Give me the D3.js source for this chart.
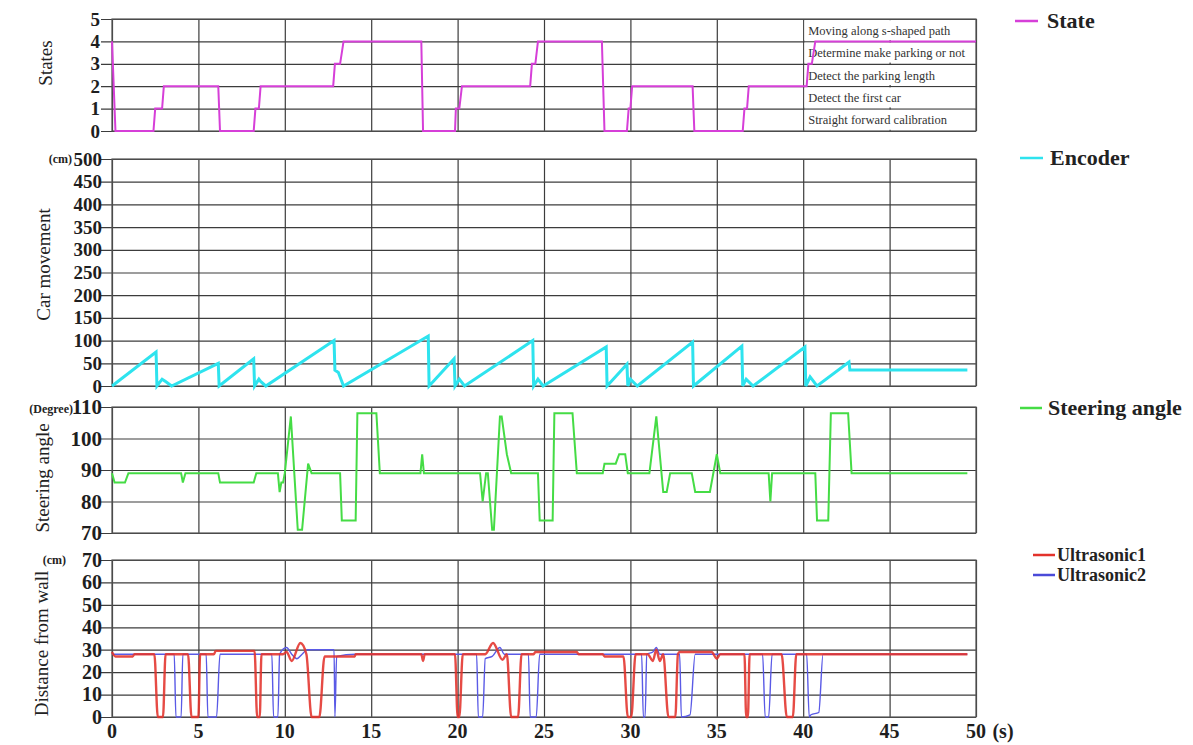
<!DOCTYPE html>
<html><head><meta charset="utf-8">
<script src="https://cdn.jsdelivr.net/npm/d3@7"></script>
<style>body{margin:0;background:#fff;} svg{display:block;font-family:"Liberation Serif","Times New Roman",serif;}</style>
</head><body><svg id="c" width="1193" height="745"></svg>
<script>
// ---------- DATA ----------
const timeTicks = [0,5,10,15,20,25,30,35,40,45,50];
const stateTicks = [0,1,2,3,4,5];
const encoderTicks = [0,50,100,150,200,250,300,350,400,450,500];
const steeringTicks = [70,80,90,100,110];
const ultraTicks = [0,10,20,30,40,50,60,70];
const stateLabels = ["Moving along s-shaped path","Determine make parking or not","Detect the parking length","Detect the first car","Straight forward calibration"];

const stateT = [0,0.2,2.4,2.5,2.9,3.0,6.15,6.25,8.2,8.3,8.5,8.6,12.8,12.9,13.2,13.4,17.9,18.0,19.85,19.9,20.1,20.25,24.2,24.3,24.5,24.65,28.35,28.5,29.8,29.9,30.0,30.1,33.6,33.7,36.5,36.6,36.75,36.85,40.2,40.3,40.5,40.7,50];
const stateV = [4,0,0,1,1,2,2,0,0,1,1,2,2,3,3,4,4,0,0,1,1,2,2,3,3,4,4,0,0,1,1,2,2,0,0,1,1,2,2,3,3,4,4];

const encoderT = [0,2.55,2.6,2.9,3.1,3.45,6.15,6.2,8.2,8.25,8.5,8.6,8.9,12.85,12.9,13.1,13.4,18.3,18.35,19.8,19.85,20.1,20.4,24.35,24.4,24.65,24.95,28.6,28.65,29.8,29.85,30.0,30.4,33.6,33.65,36.45,36.5,36.7,37.1,40.1,40.15,40.4,40.8,42.65,42.7,49.5];
const encoderV = [0,75,0,15,10,0,50,0,60,0,15,10,0,100,35,30,0,110,0,60,0,15,0,100,0,15,0,86,0,48,0,15,0,97,0,88,0,15,0,86,0,20,0,53,35,35];

const steeringT = [0,0.15,0.75,0.95,4.0,4.1,4.25,6.15,6.25,8.2,8.35,9.6,9.7,9.8,9.9,10.0,10.35,10.75,11.0,11.35,11.55,13.2,13.3,14.1,14.2,15.3,15.5,17.85,17.95,18.05,21.3,21.45,21.65,21.75,22.0,22.1,22.45,22.55,22.85,23.1,24.65,24.75,25.5,25.6,26.65,26.9,28.4,28.5,29.15,29.35,29.7,29.85,31.1,31.5,31.9,32.1,32.3,33.55,33.75,34.6,35.0,35.2,38.0,38.1,38.2,40.7,40.8,41.45,41.6,42.6,42.8,49.5];
const steeringV = [89,86,86,89,89,86,89,89,86,86,89,89,83,86,86,89,107,71,71,92,89,89,74,74,108,108,89,89,95,89,89,80,89,89,71,71,107,107,95,89,89,74,74,108,108,89,89,92,92,95,95,89,89,107,83,83,89,89,83,83,95,89,89,80,89,89,74,74,108,108,89,89];

const ultra1T = [0,0.2,1.2,1.3,2.45,2.65,2.95,3.1,4.4,4.6,5.0,5.1,5.9,6.0,8.25,8.4,8.55,8.65,9.9,10.1,10.4,10.9,11.25,11.55,12.0,12.3,14.05,14.1,17.9,18.0,18.1,19.85,20.0,20.1,20.3,21.6,22.05,22.6,22.85,23.1,23.5,23.7,24.4,24.5,26.9,27.0,28.4,28.5,29.6,29.85,30.05,30.3,31.0,31.3,31.5,31.7,31.9,32.2,32.6,32.75,32.85,34.7,35.0,35.2,36.6,36.7,36.8,36.9,38.75,39.05,39.4,39.6,49.5];
const ultra1V = [29,27,27,28,28,0,0,28,28,0,0,28,28,29.5,29.5,0,0,28,28,29,25,33,28,0,0,27,27,28,28,25,28,28,0,0,28,28,33,25.5,28,0,0,28,28,29,29,28,28,27,27,0,0,28,28,25,30,25,28,0,0,28,29,29,26,28,28,0,0,28,28,0,0,28,28];

const ultra2T = [0,3.6,3.7,4.0,4.1,5.45,5.55,6.05,6.25,9.25,9.35,9.6,9.7,10.1,10.4,10.7,11.0,11.3,12.85,12.9,13.0,14.1,21.1,21.2,21.45,21.6,22.0,22.45,22.7,24.1,24.2,24.55,24.75,30.65,30.75,30.85,30.95,31.3,31.5,31.7,32.85,32.95,33.45,33.75,37.65,37.8,38.0,38.2,40.2,40.35,40.45,40.9,41.15,49.5];
const ultra2V = [28,28,0,0,28,28,0,0,28,28,0,0,28,31,28,26,28,30,30,0,27,28,28,0,0,26,27,31,28,28,0,0,28,28,0,0,28,29,31,28,28,0,1,28,28,0,0,28,28,0,1,2,28,28];

// ---------- DRAW ----------
const svg = d3.select('#c');
const x = d3.scaleLinear().domain([0,50]).range([112,976]);
const GRID = '#3c3c3c';
const SERIF = '"Liberation Serif","Times New Roman",serif';
const zip = (T,V) => T.map((t,i)=>({t, v:V[i]}));

function panel(cfg){
  const y = d3.scaleLinear().domain(cfg.domain).range([cfg.bottom, cfg.top]);
  const g = svg.append('g');
  g.append('g').attr('transform',`translate(0,${cfg.bottom})`)
    .call(d3.axisBottom(x).tickValues(timeTicks).tickSize(-(cfg.bottom-cfg.top)).tickFormat(''))
    .call(a=>a.select('.domain').remove())
    .call(a=>a.selectAll('line').attr('stroke',GRID).attr('stroke-width',1.2));
  const ya = g.append('g').attr('transform',`translate(${x(0)},0)`)
    .call(d3.axisLeft(y).tickValues(cfg.ticks).tickFormat(d3.format('d')).tickSize(0).tickPadding(cfg.pad))
    .attr('font-family',null).attr('font-size',null);
  ya.select('.domain').remove();
  ya.selectAll('.tick line').attr('x1',-11).attr('x2',x(50)-x(0)).attr('stroke',GRID).attr('stroke-width',1.2);
  ya.selectAll('.tick text').attr('font-size',cfg.fs).attr('font-weight','bold').attr('fill','#1e1e1e')
    .attr('font-family',SERIF);
  g.append('rect').attr('x',x(0)).attr('y',cfg.top).attr('width',x(50)-x(0)).attr('height',cfg.bottom-cfg.top)
    .attr('fill','none').attr('stroke','#555').attr('stroke-width',1.2);
  svg.append('text').attr('transform',`translate(${cfg.tx},${(cfg.top+cfg.bottom)/2+cfg.tdy}) rotate(-90)`)
    .attr('text-anchor','middle').attr('font-size',19).attr('fill','#222').text(cfg.title);
  return y;
}

const yS = panel({domain:[0,5], top:19, bottom:131, ticks:stateTicks, fs:19, pad:12, title:'States', tx:52, tdy:-12});
const yE = panel({domain:[0,500], top:159, bottom:386, ticks:encoderTicks, fs:19, pad:10, title:'Car movement', tx:50, tdy:-8});
const yA = panel({domain:[70,110], top:407, bottom:533, ticks:steeringTicks, fs:21, pad:10, title:'Steering angle', tx:49, tdy:8});
const yU = panel({domain:[0,70], top:560, bottom:717, ticks:ultraTicks, fs:20, pad:10, title:'Distance from wall', tx:48, tdy:5});

// state label table
stateLabels.forEach((s,i)=>{
  const top = yS(5-i), bot = yS(4-i);
  svg.append('rect').attr('x',x(40)+1.2).attr('y',top+1.2).attr('width',x(50)-x(40)-2.4).attr('height',bot-top-2.4).attr('fill','#fff');
  svg.append('text').attr('x',x(40)+5).attr('y',(top+bot)/2+4.5).attr('font-size',12.5).attr('fill','#333').text(s);
});

const line = (y,curve) => d3.line().x(d=>x(d.t)).y(d=>y(d.v)).curve(curve || d3.curveLinear);
svg.append('path').datum(zip(stateT,stateV)).attr('d',line(yS)).attr('fill','none').attr('stroke','#d63fd8').attr('stroke-width',2);
svg.append('path').datum(zip(encoderT,encoderV)).attr('d',line(yE)).attr('fill','none').attr('stroke','#2ee3ee').attr('stroke-width',3);
svg.append('path').datum(zip(steeringT,steeringV)).attr('d',line(yA)).attr('fill','none').attr('stroke','#45dc45').attr('stroke-width',2);
svg.append('path').datum(zip(ultra2T,ultra2V)).attr('d',line(yU,d3.curveMonotoneX)).attr('fill','none').attr('stroke','#5a5ae6').attr('stroke-width',1.4);
svg.append('path').datum(zip(ultra1T,ultra1V)).attr('d',line(yU,d3.curveMonotoneX)).attr('fill','none').attr('stroke','#e3322b').attr('stroke-width',2.4).attr('stroke-opacity',0.88);

// x-axis labels
svg.append('g').selectAll('text').data(timeTicks).join('text')
  .attr('x',d=>x(d)).attr('y',738).attr('text-anchor','middle').attr('font-size',20).attr('font-weight','bold').attr('fill','#1e1e1e').text(d=>d);
svg.append('text').attr('x',1003).attr('y',738).attr('text-anchor','middle').attr('font-size',20).attr('font-weight','bold').attr('fill','#1e1e1e').text('(s)');

// unit labels
svg.append('text').attr('x',72).attr('y',163).attr('text-anchor','end').attr('font-size',12).attr('font-weight','bold').attr('fill','#222').text('(cm)');
svg.append('text').attr('x',73).attr('y',413).attr('text-anchor','end').attr('font-size',12).attr('font-weight','bold').attr('fill','#222').text('(Degree)');
svg.append('text').attr('x',66).attr('y',564).attr('text-anchor','end').attr('font-size',12).attr('font-weight','bold').attr('fill','#222').text('(cm)');

// legends
function legend(x1,x2,y,color,label,tx,fs){
  svg.append('line').attr('x1',x1).attr('x2',x2).attr('y1',y).attr('y2',y).attr('stroke',color).attr('stroke-width',2.5);
  svg.append('text').attr('x',tx).attr('y',y+fs*0.32).attr('font-size',fs).attr('font-weight','bold').attr('fill','#222').text(label);
}
legend(1015,1038,21,'#d63fd8','State',1047,22);
legend(1020,1043,158,'#2ee3ee','Encoder',1050,22);
legend(1020,1042,408,'#45dc45','Steering angle',1048,22);
legend(1033,1055,555,'#e3322b','Ultrasonic1',1057,18);
legend(1033,1055,575,'#4a4ad8','Ultrasonic2',1057,18);
</script></body></html>
